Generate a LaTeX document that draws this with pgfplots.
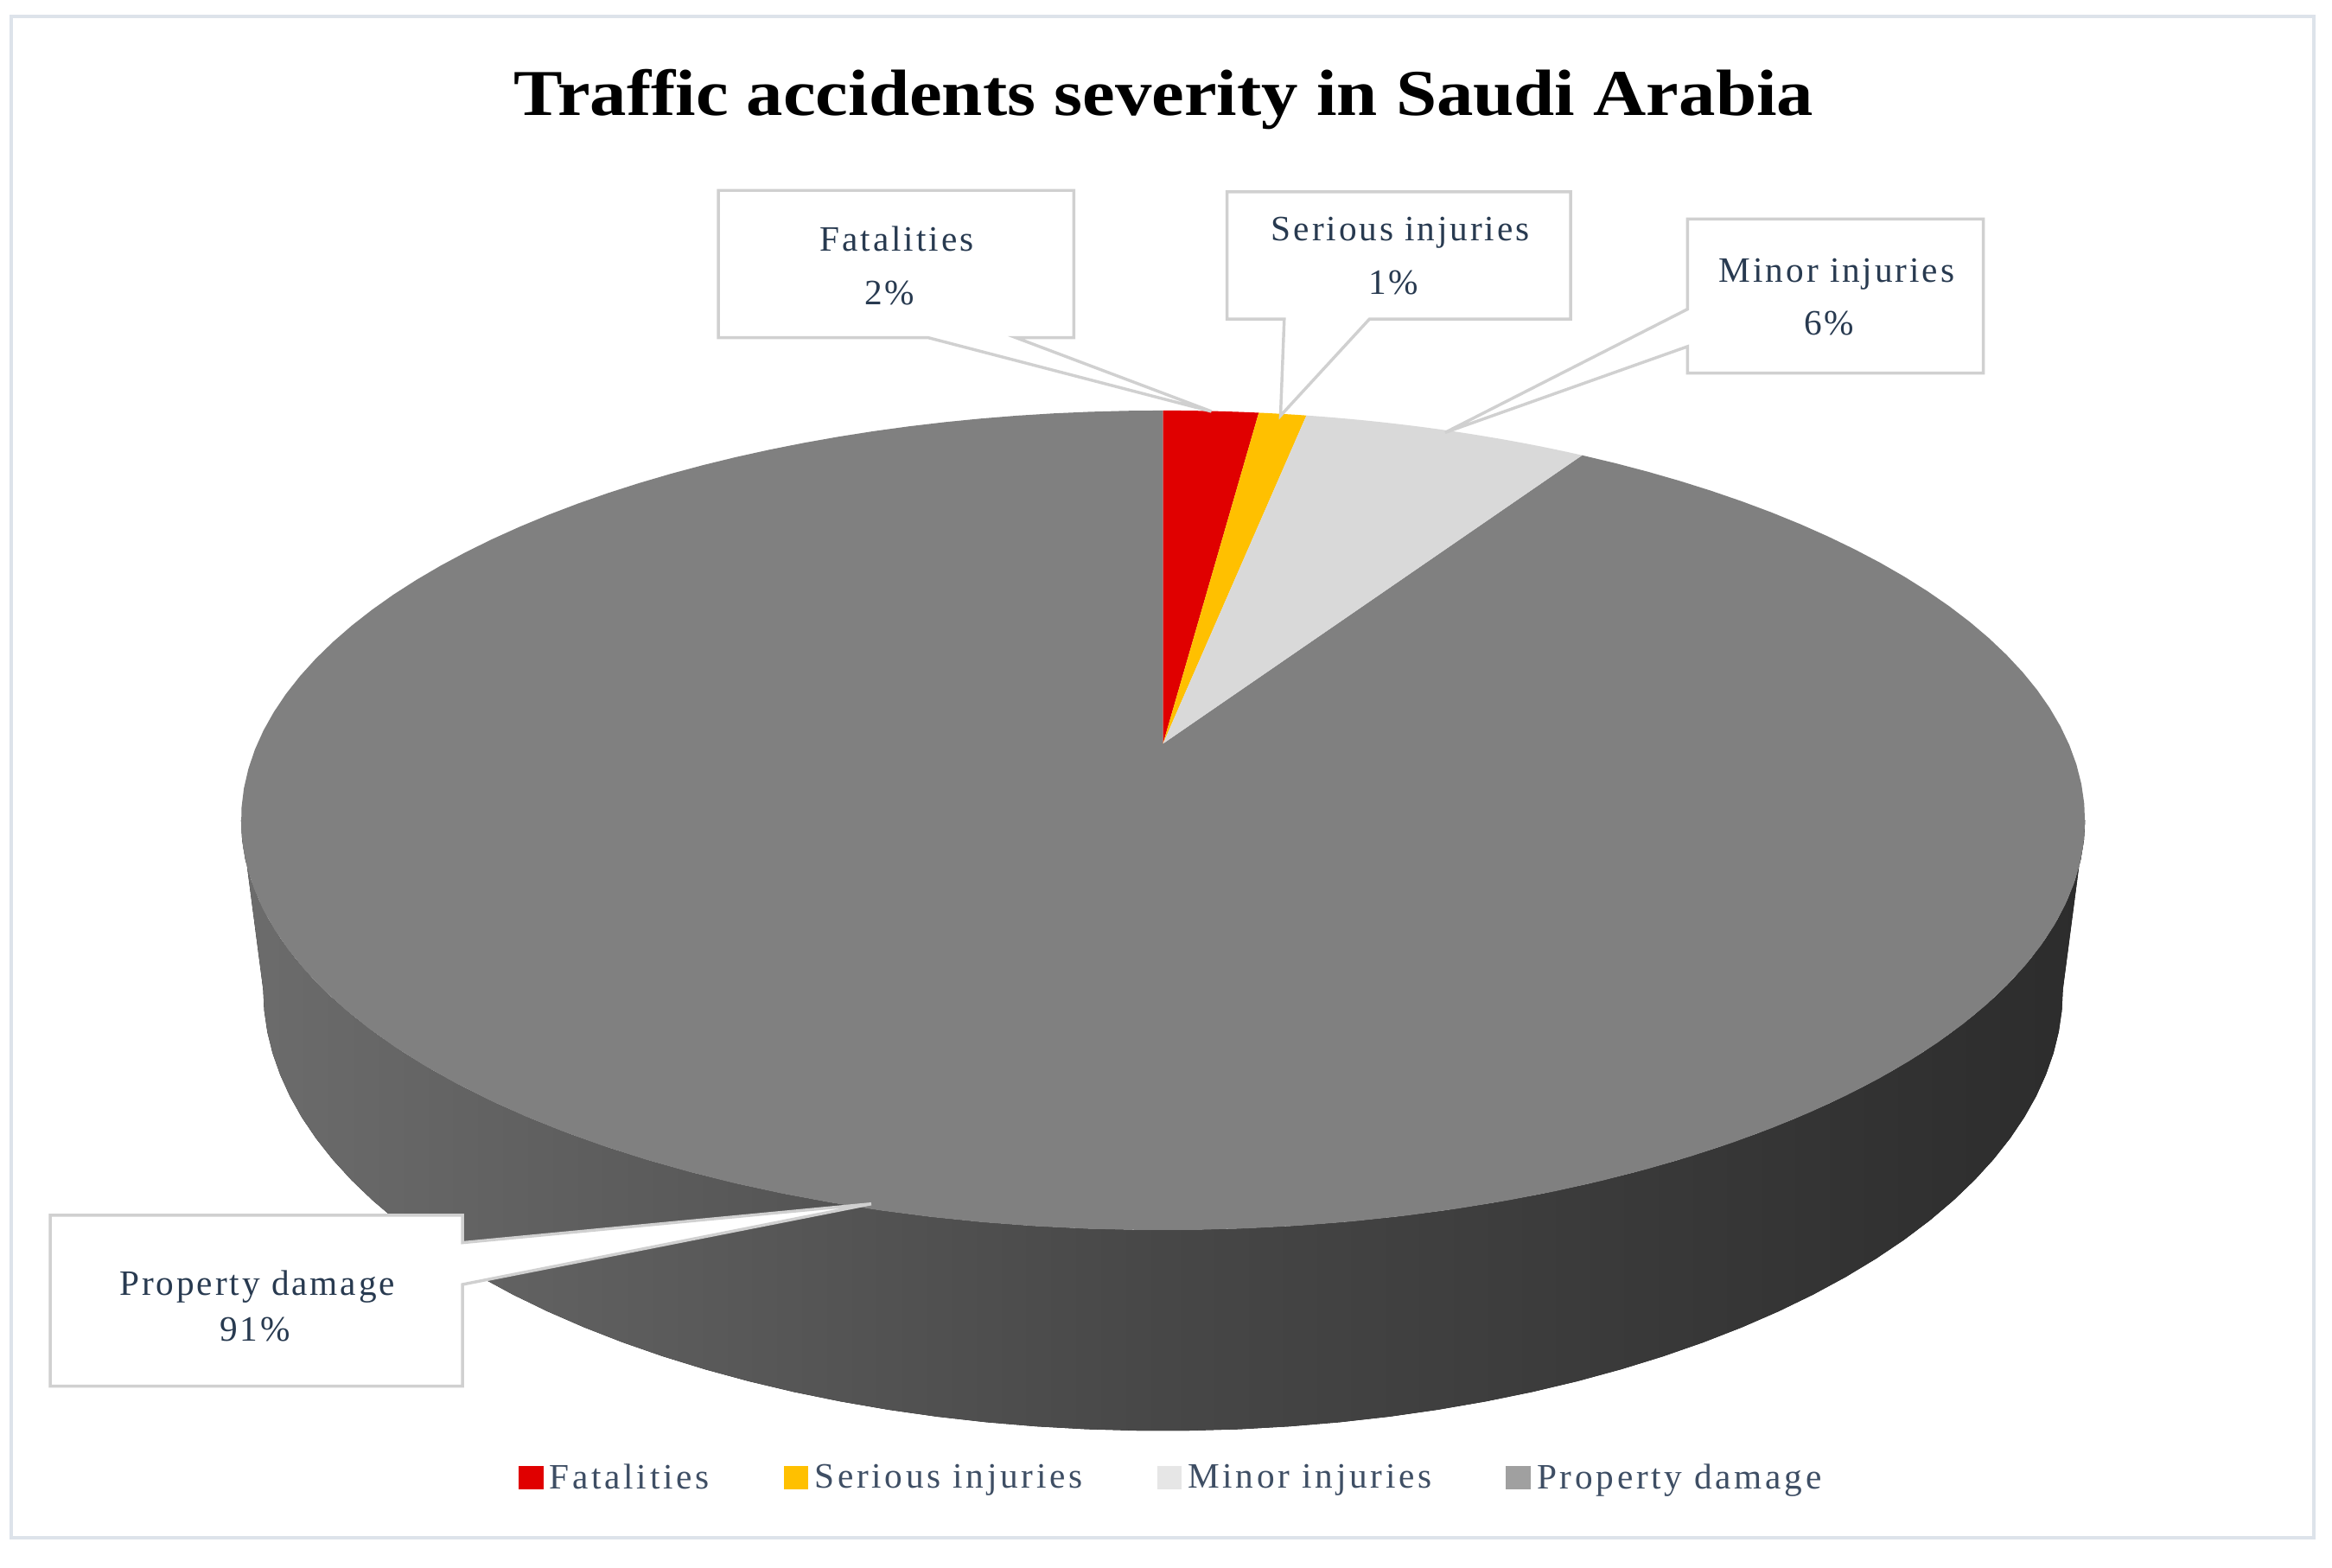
\documentclass[border=0pt]{standalone}
\usepackage{pgfplots}
\usepackage{pgfplotstable}
\pgfplotsset{compat=1.18}
\usepackage{fontspec}
\setmainfont{Liberation Serif}
\newfontfamily\spaced[LetterSpace=7]{Liberation Serif}
\newfontfamily\keyfont[LetterSpace=9]{Liberation Serif}

\definecolor{fatal}{HTML}{E00000}
\definecolor{serious}{HTML}{FFC000}
\definecolor{minor}{HTML}{D9D9D9}
\definecolor{property}{HTML}{808080}
\definecolor{minorkey}{HTML}{E6E6E6}
\definecolor{propertykey}{HTML}{A0A0A0}
\definecolor{sideL}{HTML}{6C6C6C}
\definecolor{sideM}{HTML}{474747}
\definecolor{sideR}{HTML}{2C2C2C}
\definecolor{calloutline}{HTML}{D0D0D0}
\definecolor{frameline}{HTML}{DDE3EA}
\definecolor{labeltext}{HTML}{283A50}
\definecolor{keytext}{HTML}{3E4E64}

% share of accidents by severity (percent)
\pgfplotstableread{
category share
Fatalities 2
Serious 1
Minor 6
Property 91
}\severity

\begin{document}
\begin{tikzpicture}
% cumulative slice angles, clockwise from the top
\pgfplotstablegetelem{0}{share}\of\severity \pgfmathsetmacro\tA{3.6*\pgfplotsretval}
\pgfplotstablegetelem{1}{share}\of\severity \pgfmathsetmacro\tB{\tA+3.6*\pgfplotsretval}
\pgfplotstablegetelem{2}{share}\of\severity \pgfmathsetmacro\tC{\tB+3.6*\pgfplotsretval}
\pgfplotstablegetelem{3}{share}\of\severity \pgfmathsetmacro\tD{\tC+3.6*\pgfplotsretval}
\begin{axis}[
  width=784pt, height=527pt, scale only axis,
  xmin=0, xmax=1568, ymin=0, ymax=1054, y dir=reverse,
  hide axis, clip=false,
  legend columns=4,
  legend style={at={(0.503,0.0569)}, anchor=center, draw=none, fill=none,
    font=\keyfont\fontsize{12}{14}\selectfont, text=keytext,
    /tikz/every even column/.append style={column sep=23pt}},
]
\fill[white] (axis cs:0,0) rectangle (axis cs:1568,1054);
\draw[frameline, line width=1.2pt] (axis cs:7.7,10.8) rectangle (axis cs:1556,1034);

% side of the pie (between the silhouette points of top and bottom faces)
\fill[left color=sideL, right color=sideR, middle color=sideM]
  plot[variable=\t, domain=100.78:259.22, samples=60]
    (axis cs:{782+609*sin(\t)/(1+0.187*cos(\t))},{(500-172.4*cos(\t))/(1+0.187*cos(\t))})
  -- plot[variable=\t, domain=259.22:100.78, samples=60]
    (axis cs:{782+594.4*sin(\t)/(1+0.187*cos(\t))},{(609.7-172.4*cos(\t))/(1+0.187*cos(\t))})
  -- cycle;

% top face slices
\fill[property] (axis cs:782,500) -- plot[variable=\t, domain=\tC:\tD, samples=120]
    (axis cs:{782+609*sin(\t)/(1+0.187*cos(\t))},{(500-172.4*cos(\t))/(1+0.187*cos(\t))}) -- cycle;
\fill[fatal] (axis cs:782,500) -- plot[variable=\t, domain=0:\tA, samples=10]
    (axis cs:{782+609*sin(\t)/(1+0.187*cos(\t))},{(500-172.4*cos(\t))/(1+0.187*cos(\t))}) -- cycle;
\fill[serious] (axis cs:782,500) -- plot[variable=\t, domain=\tA:\tB, samples=10]
    (axis cs:{782+609*sin(\t)/(1+0.187*cos(\t))},{(500-172.4*cos(\t))/(1+0.187*cos(\t))}) -- cycle;
\fill[minor] (axis cs:782,500) -- plot[variable=\t, domain=\tB:\tC, samples=20]
    (axis cs:{782+609*sin(\t)/(1+0.187*cos(\t))},{(500-172.4*cos(\t))/(1+0.187*cos(\t))}) -- cycle;

% callouts
\filldraw[fill=white, draw=calloutline, line width=1pt]
  (axis cs:483,128) -- (axis cs:722,128) -- (axis cs:722,227) -- (axis cs:683,227)
  -- (axis cs:814.5,276.6) -- (axis cs:624,227) -- (axis cs:483,227) -- cycle;
\filldraw[fill=white, draw=calloutline, line width=1pt]
  (axis cs:825,129) -- (axis cs:1056,129) -- (axis cs:1056,214.5) -- (axis cs:920.8,214.5)
  -- (axis cs:861,279.5) -- (axis cs:863.5,214.5) -- (axis cs:825,214.5) -- cycle;
\filldraw[fill=white, draw=calloutline, line width=1pt]
  (axis cs:1134.6,147.2) -- (axis cs:1333.6,147.2) -- (axis cs:1333.6,250.9) -- (axis cs:1134.6,250.9)
  -- (axis cs:1134.6,233) -- (axis cs:971.7,290.8) -- (axis cs:1134.6,207.9) -- cycle;
\filldraw[fill=white, draw=calloutline, line width=1pt]
  (axis cs:33.8,817) -- (axis cs:311,817) -- (axis cs:311,835.5) -- (axis cs:585.8,809.4)
  -- (axis cs:311,863.6) -- (axis cs:311,932) -- (axis cs:33.8,932) -- cycle;

\begin{scope}[every node/.style={anchor=base, text=labeltext, font=\spaced\fontsize{12}{14}\selectfont}]
\node at (axis cs:603,169) {Fatalities};
\node at (axis cs:598,205) {2\%};
\node at (axis cs:941.6,162) {Serious injuries};
\node at (axis cs:937,198) {1\%};
\node at (axis cs:1235,189.5) {Minor injuries};
\node at (axis cs:1230,225.3) {6\%};
\node at (axis cs:173,871) {Property damage};
\node at (axis cs:171.5,901.4) {91\%};
\end{scope}

\node[anchor=base, xscale=1.12, font=\fontsize{22}{26}\selectfont\bfseries] at (axis cs:782.5,77.7)
  {Traffic accidents severity in Saudi Arabia};

\addlegendimage{legend image code/.code={\fill[fatal] (0pt,-3.5pt) rectangle (8pt,4pt);}}
\addlegendentry{Fatalities}
\addlegendimage{legend image code/.code={\fill[serious] (0pt,-3.5pt) rectangle (8pt,4pt);}}
\addlegendentry{Serious injuries}
\addlegendimage{legend image code/.code={\fill[minorkey] (0pt,-3.5pt) rectangle (8pt,4pt);}}
\addlegendentry{Minor injuries}
\addlegendimage{legend image code/.code={\fill[propertykey] (0pt,-3.5pt) rectangle (8pt,4pt);}}
\addlegendentry{Property damage}
\end{axis}
\end{tikzpicture}
\end{document}
